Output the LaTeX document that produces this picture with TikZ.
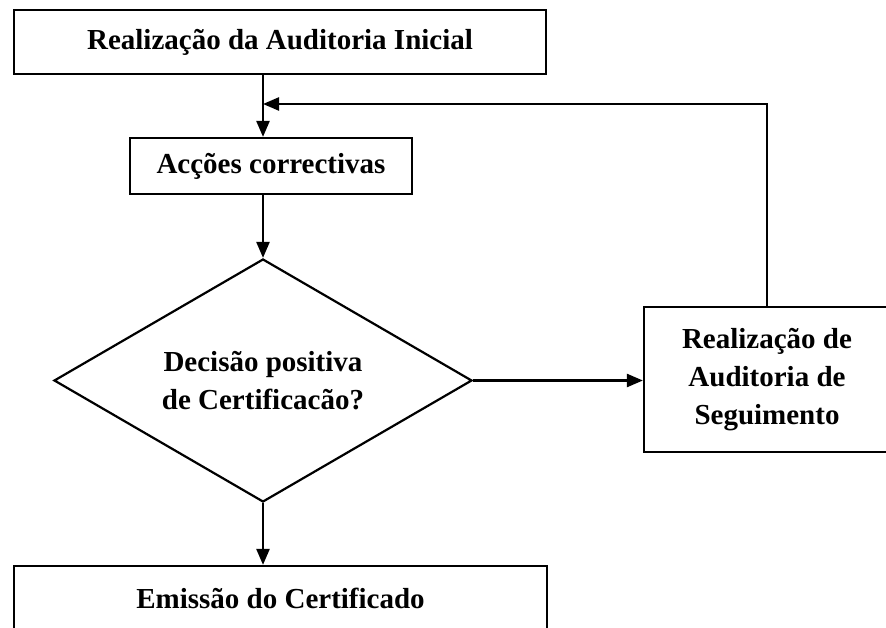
\documentclass[tikz,border=0pt]{standalone}
\usepackage{fontspec}
\setmainfont{Liberation Serif}
\usetikzlibrary{shapes.geometric,arrows.meta}
\tikzset{
  box/.style={draw, line width=2.2pt, inner sep=0pt, align=center,
    font=\bfseries\fontsize{29pt}{38pt}\selectfont},
  decision/.style={draw, diamond, aspect=1.72, line width=2.2pt, inner sep=0pt, align=center,
    font=\bfseries\fontsize{29pt}{38pt}\selectfont},
  flow/.style={line width=2.4pt, -{Triangle[length=16pt,width=13pt]}}
}
\begin{document}
\begin{tikzpicture}[x=1pt,y=-1pt]
\useasboundingbox (0,0) rectangle (886,628);
\clip (0,0) rectangle (886,628);
\node[box, minimum width=532pt, minimum height=64pt] (ini) at (280,42) {Realização da Auditoria Inicial};
\node[box, minimum width=282pt, minimum height=56pt] (acc) at (271,166) {Acções correctivas};
\node[decision, minimum width=418pt, minimum height=243pt] (dec) at (263,380.5) {Decisão positiva\\de Certificacão?};
\node[box, minimum width=246pt, minimum height=145pt] (seg) at (767,379.5) {Realização de\\Auditoria de\\Seguimento};
\node[box, minimum width=533pt, minimum height=64pt] (emi) at (280.5,598) {Emissão do Certificado};
\coordinate (join) at (263,104);
\draw[flow] (ini.south -| join) -- (acc.north -| join);
\draw[flow] (acc.south -| dec.north) -- (dec.north);
\draw[flow] (dec.east) -- (dec.east -| seg.west);
\draw[flow] (seg.north) -- (seg.north |- join) -- (join);
\draw[flow] (dec.south) -- (dec.south |- emi.north);
\end{tikzpicture}
\end{document}
